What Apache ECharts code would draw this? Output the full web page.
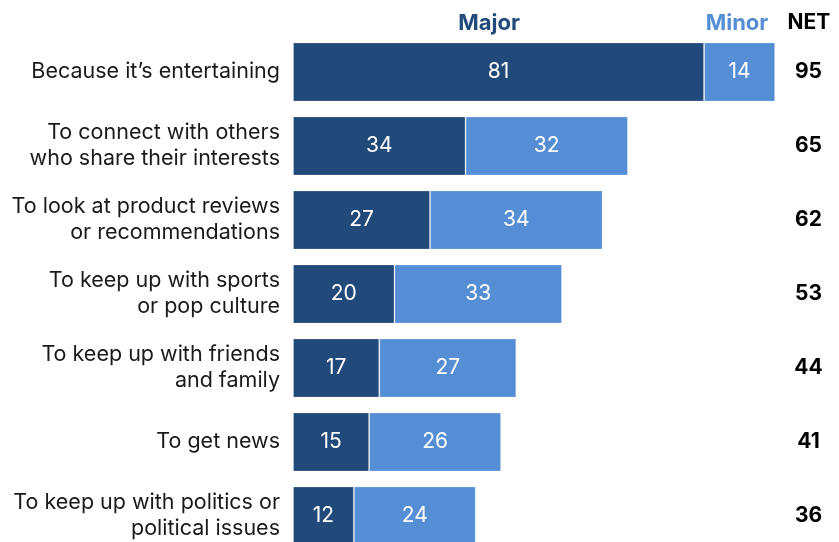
<!DOCTYPE html>
<html><head><meta charset="utf-8">
<script src="https://cdn.jsdelivr.net/npm/echarts@6/dist/echarts.min.js"></script>
<style>html,body{margin:0;padding:0;background:#fff}#c{width:839px;height:542px}</style>
</head><body><div id="c"></div>
<script>
const categories = [
  "Because it’s entertaining",
  "To connect with others\nwho share their interests",
  "To look at product reviews\nor recommendations",
  "To keep up with sports\nor pop culture",
  "To keep up with friends\nand family",
  "To get news",
  "To keep up with politics or\npolitical issues"
];
const major = [81, 34, 27, 20, 17, 15, 12];
const minor = [14, 32, 34, 33, 27, 26, 24];
const net = [95, 65, 62, 53, 44, 41, 36];

const FONT = "Inter";
const chart = echarts.init(document.getElementById('c'), null, {renderer: 'canvas'});
chart.setOption({
  animation: false,
  textStyle: {fontFamily: FONT},
  title: [
    {text: 'Major', left: 484, top: 7, textAlign: 'center', textStyle: {fontFamily: FONT, fontSize: 22, fontWeight: 'bold', color: '#214a7b'}},
    {text: 'Minor', left: 732, top: 7, textAlign: 'center', textStyle: {fontFamily: FONT, fontSize: 22, fontWeight: 'bold', color: '#558ed5'}},
    {text: 'NET', left: 804, top: 7, textAlign: 'center', textStyle: {fontFamily: FONT, fontSize: 21, fontWeight: 'bold', color: '#000'}}
  ],
  grid: {left: 293, top: 35, width: 507.5, height: 518, outerBoundsMode: 'none', containLabel: false},
  xAxis: {type: 'value', min: 0, max: 100, show: false},
  yAxis: [
    {type: 'category', data: categories, inverse: true,
     axisLine: {show: false}, axisTick: {show: false},
     axisLabel: {margin: 13, fontFamily: FONT, fontSize: 21.5, color: '#1a1a1a', align: 'right', lineHeight: 26}},
    {type: 'category', data: net, inverse: true, position: 'right',
     axisLine: {show: false}, axisTick: {show: false},
     axisLabel: {margin: 8, align: 'center', fontFamily: FONT, fontSize: 21, fontWeight: 'bold', color: '#000'}}
  ],
  series: [
    {name: 'Major', type: 'bar', stack: 's', data: major, barCategoryGap: '20%',
     itemStyle: {color: '#214a7b', borderColor: 'rgba(255,255,255,0.25)', borderWidth: 1},
     label: {show: true, position: 'inside', color: '#fff', fontFamily: FONT, fontSize: 21}},
    {name: 'Minor', type: 'bar', stack: 's', data: minor,
     itemStyle: {color: '#558ed5', borderColor: 'rgba(255,255,255,0.25)', borderWidth: 1},
     label: {show: true, position: 'inside', color: '#fff', fontFamily: FONT, fontSize: 21}}
  ]
});
</script></body></html>
